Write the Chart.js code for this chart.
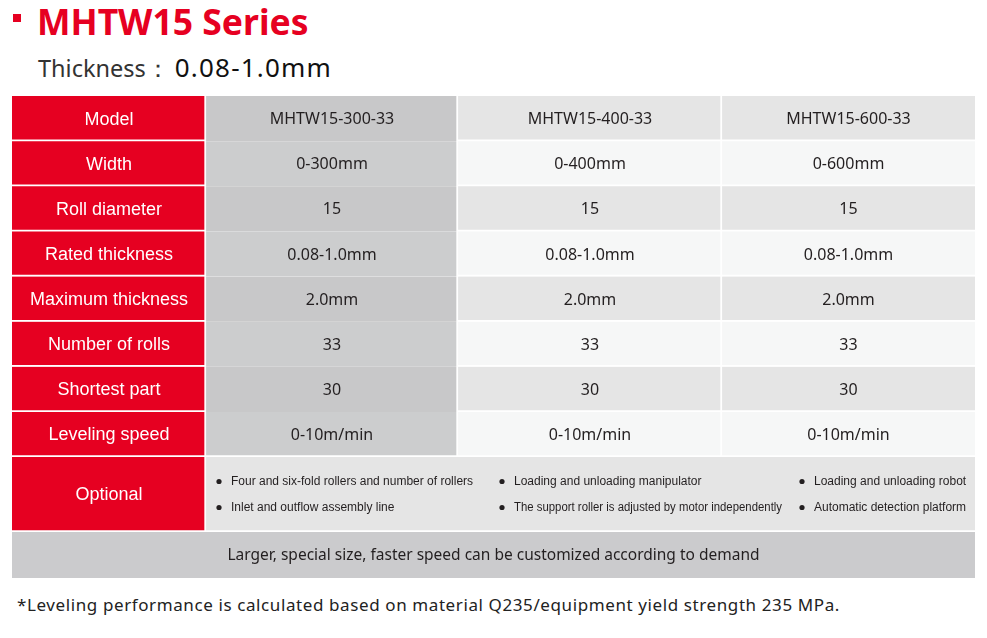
<!DOCTYPE html>
<html>
<head>
<meta charset="utf-8">
<script src="https://cdn.jsdelivr.net/npm/chart.js@4/dist/chart.umd.min.js"></script>
<style>
  body { margin: 0; width: 987px; height: 638px; background: #fff; position: relative; overflow: hidden; font-family: "Noto Sans", sans-serif; }
  .mark { position: absolute; left: 13px; top: 14px; width: 8px; height: 8px; background: #e60021; }
  .title { position: absolute; left: 37px; top: -3px; font-weight: bold; font-size: 35.5px; line-height: 48px; color: #e60021; }
  .sub { position: absolute; left: 38px; top: 48px; line-height: 38px; white-space: nowrap; }
  .sub .k { font-size: 23.5px; color: #333; }
  .sub .v { font-size: 26px; color: #111; letter-spacing: 1.2px; margin-left: 5px; }
  .box { position: absolute; left: 12px; width: 963px; }
  #specBox { top: 96px; height: 361px; }
  #optBox { top: 457px; height: 75px; }
  #noteBox { top: 532px; height: 46px; }
  .foot { position: absolute; left: 17px; top: 593px; font-family: "Noto Sans", sans-serif; font-size: 17px; letter-spacing: 0.6px; line-height: 24px; color: #222; white-space: nowrap; }
</style>
</head>
<body>
<div class="mark"></div>
<div class="title">MHTW15 Series</div>
<div class="sub"><span class="k">Thickness：</span><span class="v">0.08-1.0mm</span></div>
<div class="box" id="specBox"><canvas id="spec"></canvas></div>
<div class="box" id="optBox"><canvas id="opt"></canvas></div>
<div class="box" id="noteBox"><canvas id="note"></canvas></div>
<div class="foot">*Leveling performance is calculated based on material Q235/equipment yield strength 235 MPa.</div>
<script>
const MODELS = ["MHTW15-300-33", "MHTW15-400-33", "MHTW15-600-33"];
const SPEC_ROWS = ["Model", "Width", "Roll diameter", "Rated thickness", "Maximum thickness", "Number of rolls", "Shortest part", "Leveling speed"];
const WIDTH_RANGE = ["0-300mm", "0-400mm", "0-600mm"];
const ROLL_DIAMETER = ["15", "15", "15"];
const RATED_THICKNESS = ["0.08-1.0mm", "0.08-1.0mm", "0.08-1.0mm"];
const MAX_THICKNESS = ["2.0mm", "2.0mm", "2.0mm"];
const ROLL_COUNT = ["33", "33", "33"];
const SHORTEST_PART = ["30", "30", "30"];
const LEVELING_SPEED = ["0-10m/min", "0-10m/min", "0-10m/min"];
const OPTIONAL_LABEL = "Optional";
const OPTIONAL_ITEMS = [
  ["Four and six-fold rollers and number of rollers", "Inlet and outflow assembly line"],
  ["Loading and unloading manipulator", "The support roller is adjusted by motor independently"],
  ["Loading and unloading robot", "Automatic detection platform"],
];
const CUSTOM_NOTE = "Larger, special size, faster speed can be customized according to demand";

// one row per spec, one entry per model
const SPEC_VALUES = [MODELS, WIDTH_RANGE, ROLL_DIAMETER, RATED_THICKNESS, MAX_THICKNESS, ROLL_COUNT, SHORTEST_PART, LEVELING_SPEED];

// table layout (relative column widths, in x-axis units)
const COL_WIDTHS = [194, 252, 264, 253];
const OPT_WIDTHS = [194, 283, 300, 186];
const TOTAL = COL_WIDTHS.reduce((a, b) => a + b, 0);

const RED = "#e60021";
const WHITE = "#ffffff";
const INK = "#231f20";

function edges(widths) {
  const out = [];
  let x = 0;
  for (const w of widths) { out.push([x, x + w]); x += w; }
  return out;
}

const cellText = {
  id: "cellText",
  afterDatasetsDraw(chart) {
    const ctx = chart.ctx;
    chart.data.datasets.forEach((ds, di) => {
      const meta = chart.getDatasetMeta(di);
      meta.data.forEach((bar, i) => {
        const c = bar.getCenterPoint();
        ctx.save();
        ctx.fillStyle = ds.textColor;
        ctx.font = ds.textFont;
        ctx.textBaseline = "middle";
        if (ds.lines) {
          const left = Math.min(bar.x, bar.base) + 13;
          const room = Math.abs(bar.x - bar.base) - 32;
          ds.lines[i].forEach((line, k) => {
            const y = c.y + (k === 0 ? -13 : 13);
            ctx.beginPath();
            ctx.arc(left, y, 2.6, 0, Math.PI * 2);
            ctx.fill();
            ctx.textAlign = "left";
            ctx.fillText(line, left + 12, y + 0.5, room);
          });
        } else {
          ctx.textAlign = "center";
          ctx.fillText(ds.texts[i], c.x, c.y + 1);
        }
        ctx.restore();
      });
    });
  },
};

function tableOptions() {
  return {
    indexAxis: "y",
    responsive: true,
    maintainAspectRatio: false,
    animation: false,
    layout: { padding: 0 },
    datasets: { bar: { grouped: false, categoryPercentage: 1, barPercentage: 1, borderSkipped: false, borderColor: WHITE } },
    plugins: { legend: { display: false }, tooltip: { enabled: false } },
    scales: {
      x: { type: "linear", min: 0, max: TOTAL, display: false },
      y: { display: false, grid: { display: false } },
    },
  };
}

const colEdges = edges(COL_WIDTHS);
const lastRow = SPEC_ROWS.length - 1;

new Chart(document.getElementById("spec"), {
  type: "bar",
  data: {
    labels: SPEC_ROWS,
    datasets: [
      {
        data: SPEC_ROWS.map(() => colEdges[0]),
        backgroundColor: RED,
        borderWidth: { right: 2, bottom: 2 },
        texts: SPEC_ROWS,
        textColor: WHITE,
        textFont: '18px "Liberation Sans"',
      },
      {
        data: SPEC_ROWS.map(() => colEdges[1]),
        backgroundColor: (c) => (c.dataIndex % 2 ? "#cccdce" : "#c8c8c9"),
        borderWidth: (c) => ({ right: 2, bottom: c.dataIndex === lastRow ? 2 : 0 }),
        texts: SPEC_VALUES.map((r) => r[0]),
        textColor: INK,
        textFont: '16px "Noto Sans"',
      },
      {
        data: SPEC_ROWS.map(() => colEdges[2]),
        backgroundColor: (c) => (c.dataIndex % 2 ? "#f6f7f7" : "#e5e5e5"),
        borderWidth: { right: 2, bottom: 2 },
        texts: SPEC_VALUES.map((r) => r[1]),
        textColor: INK,
        textFont: '16px "Noto Sans"',
      },
      {
        data: SPEC_ROWS.map(() => colEdges[3]),
        backgroundColor: (c) => (c.dataIndex % 2 ? "#f6f7f7" : "#e5e5e5"),
        borderWidth: { bottom: 2 },
        texts: SPEC_VALUES.map((r) => r[2]),
        textColor: INK,
        textFont: '16px "Noto Sans"',
      },
    ],
  },
  options: tableOptions(),
  plugins: [cellText],
});

const optEdges = edges(OPT_WIDTHS);

new Chart(document.getElementById("opt"), {
  type: "bar",
  data: {
    labels: [OPTIONAL_LABEL],
    datasets: [
      {
        data: [optEdges[0]],
        backgroundColor: RED,
        borderWidth: { right: 2, bottom: 2 },
        texts: [OPTIONAL_LABEL],
        textColor: WHITE,
        textFont: '18px "Liberation Sans"',
      },
      ...OPTIONAL_ITEMS.map((items, k) => ({
        data: [optEdges[k + 1]],
        backgroundColor: "#e5e5e5",
        borderWidth: { bottom: 2 },
        lines: [items],
        textColor: INK,
        textFont: '12px "Liberation Sans"',
      })),
    ],
  },
  options: tableOptions(),
  plugins: [cellText],
});

new Chart(document.getElementById("note"), {
  type: "bar",
  data: {
    labels: [""],
    datasets: [
      {
        data: [[0, TOTAL]],
        backgroundColor: "#cbcbcd",
        borderWidth: 0,
        texts: [CUSTOM_NOTE],
        textColor: INK,
        textFont: '15.5px "Noto Sans"',
      },
    ],
  },
  options: tableOptions(),
  plugins: [cellText],
});
</script>
</body>
</html>
